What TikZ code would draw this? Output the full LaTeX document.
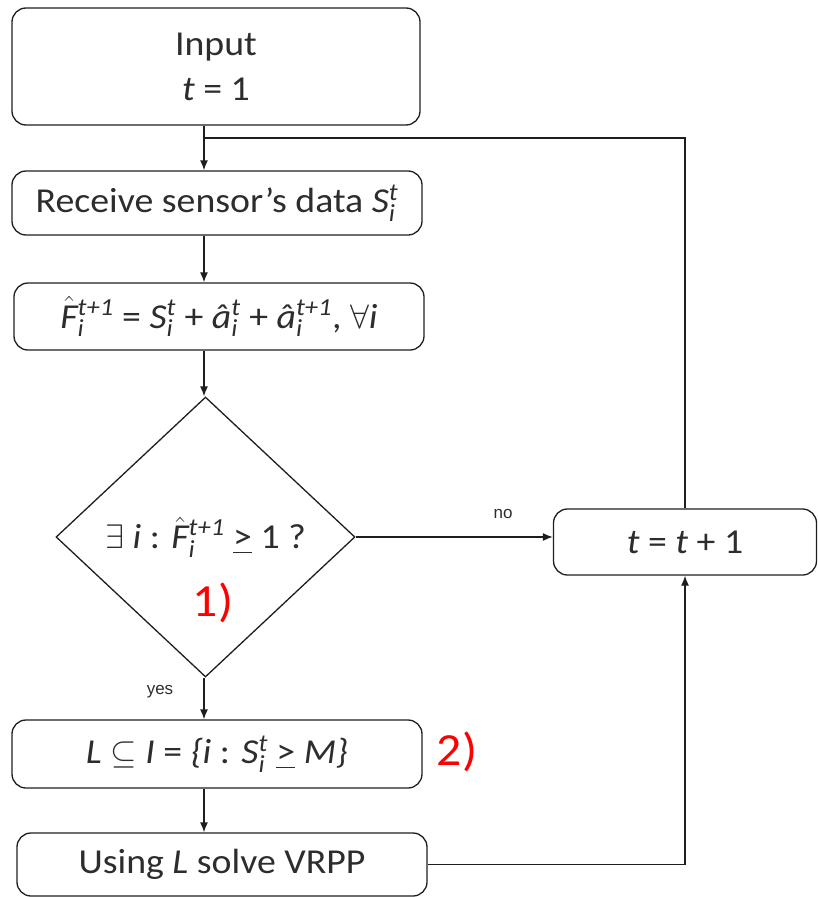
\documentclass[tikz,border=0pt]{standalone}
\usepackage{fix-cm}
\usepackage{amsmath}
\usepackage{fontspec}
\setmainfont{Carlito}[FakeStretch=1.08]
\newfontfamily\lblfont{Liberation Sans}
\usetikzlibrary{shapes.geometric,calc,arrows.meta}
\definecolor{txt}{RGB}{45,45,45}
\definecolor{lin}{RGB}{30,30,30}
\newcommand\mv[1]{\textit{#1}}
\newcommand\sbsp[3]{#1$^{\mv{#3}}_{\mv{#2}}$}
\newcommand\hatF{$\hat{\text{\itshape F}}$}
\newcommand\bigsym[1]{{\fontsize{34}{34}\selectfont$#1$}}
\begin{document}
\begin{tikzpicture}[x=1pt,y=-1pt,
  box/.style={draw=lin,line width=1.3pt,rounded corners=14pt,inner sep=0pt,
    align=center,text=txt,font=\fontsize{35}{45}\selectfont},
  decide/.style={draw=lin,line width=1.3pt,diamond,inner sep=0pt,
    minimum width=299pt,minimum height=280pt,text=txt,font=\fontsize{35}{40}\selectfont},
  flow/.style={draw=lin,line width=1.3pt,-{Latex[length=10pt,width=8pt]}},
  plain/.style={draw=lin,line width=1.3pt},
  small/.style={text=txt,font=\lblfont\fontsize{17}{20}\selectfont},
  redmark/.style={text=red,font=\fontsize{46}{50}\selectfont}]
\useasboundingbox (0,0) rectangle (817,897);
\node[box,minimum width=408pt,minimum height=117pt] (in) at (216,66.5) {Input\\\mv{t} = 1};
\node[box,minimum width=410pt,minimum height=64pt] (rec) at (217,203) {Receive sensor’s data \sbsp{\mv{S}}{i}{t}};
\node[box,minimum width=410pt,minimum height=67pt] (frm) at (219,316.5)
  {\sbsp{\hatF}{i}{t+1} = \sbsp{\mv{S}}{i}{t} + \sbsp{\mv{\^a}}{i}{t} + \sbsp{\mv{\^a}}{i}{t+1}, \bigsym{\forall}\mv{i}};
\node[decide] (dia) at (205.5,537) {\bigsym{\exists} \mv{i} : \sbsp{\hatF}{i}{t+1} \underline{>} 1 ?};
\node[redmark] (m1) at (213,603) {1)};
\node[box,minimum width=410pt,minimum height=68pt] (lset) at (217,754)
  {\mv{L} \bigsym{\subseteq} \mv{I} = \mv{\{i} : \sbsp{\mv{S}}{i}{t} \underline{>} \mv{M\}}};
\node[redmark] (m2) at (457,752) {2)};
\node[box,minimum width=410pt,minimum height=63pt] (use) at (222,864.5) {Using \mv{L} solve VRPP};
\node[box,minimum width=263pt,minimum height=66pt] (tb) at (685,542) {\mv{t} = \mv{t} + 1};
\node[small] (no) at (503,514) {no};
\node[small] (yes) at (160,692) {yes};
\coordinate (col) at (204,0);
\coordinate (j) at (204,138);
\draw[flow] (in.south -| col) -- (rec.north -| col);
\draw[flow] (rec.south -| col) -- (frm.north -| col);
\draw[flow] (frm.south -| col) -- (dia.north -| col);
\draw[flow] (dia.south -| col) -- (lset.north -| col);
\draw[flow] (lset.south -| col) -- (use.north -| col);
\draw[flow] (dia.east) -- (dia.east -| tb.west);
\draw[plain] (tb.north) |- (j);
\draw[flow] (use.east) -| (tb.south);
\end{tikzpicture}
\end{document}
